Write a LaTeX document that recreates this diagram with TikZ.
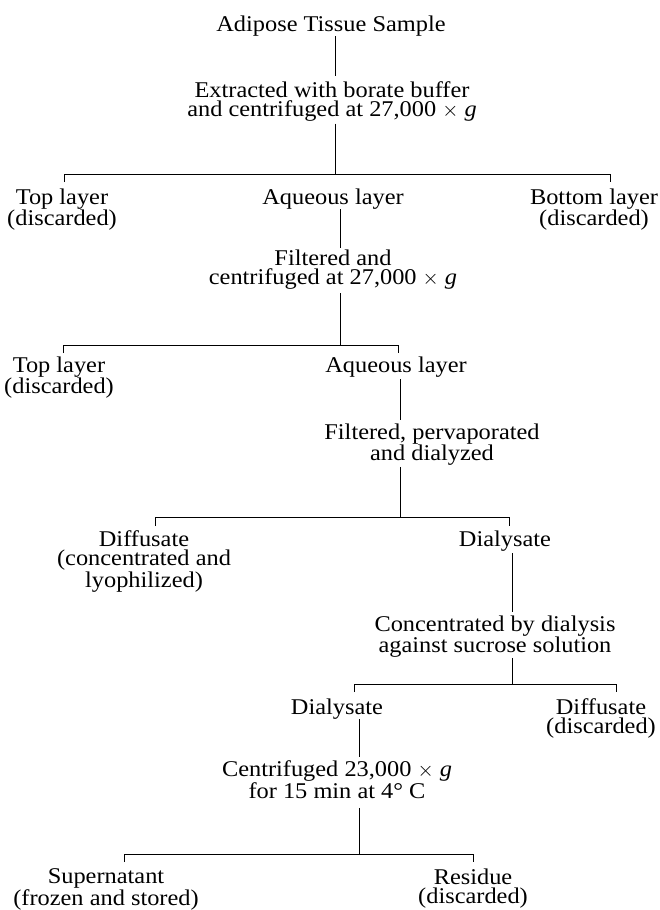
\documentclass[tikz,border=0pt]{standalone}
\usepackage{fontspec}
\setmainfont{Liberation Serif}[FakeStretch=1.083]
\begin{document}
\begin{tikzpicture}[x=1pt,y=-1pt,
  txt/.style={anchor=north,inner sep=0pt,align=center,font=\fontsize{22.5}{19}\selectfont},
  ln/.style={line width=0.8pt}]
\useasboundingbox (0,0) rectangle (659,910);
% text nodes (north = first baseline - 15.4)
\node[txt] (A) at (331,15.6) {Adipose Tissue Sample};
\node[txt] (B) at (332,81.6) {Extracted with borate buffer\\and centrifuged at 27,000 $\times$ \textit{g}};
\node[txt] (TL1) at (62,188.6) {Top layer\\(discarded)};
\node[txt] (AQ1) at (333,188.6) {Aqueous layer};
\node[txt] (BL) at (594,188.6) {Bottom layer\\(discarded)};
\node[txt] (C) at (333,249.6) {Filtered and\\centrifuged at 27,000 $\times$ \textit{g}};
\node[txt] (TL2) at (59,356.6) {Top layer\\(discarded)};
\node[txt] (AQ2) at (396,356.6) {Aqueous layer};
\node[txt] (D) at (432,423.6) {Filtered, pervaporated\\and dialyzed};
\node[txt] (DF) at (144,530.6) {Diffusate\\(concentrated and\\lyophilized)};
\node[txt] (DL) at (505,530.6) {Dialysate};
\node[txt] (E) at (495,615.6) {Concentrated by dialysis\\against sucrose solution};
\node[txt] (DL2) at (337,698.6) {Dialysate};
\node[txt] (DF2) at (601,698.6) {Diffusate\\(discarded)};
\node[txt] (F) at (337,760.6) {Centrifuged 23,000 $\times$ \textit{g}\\for 15 min at 4° C};
\node[txt] (SN) at (106,868.6) {Supernatant\\(frozen and stored)};
\node[txt] (RS) at (473,868.6) {Residue\\(discarded)};
% junctions and bracket ends
\coordinate (j1) at (335,174);  \coordinate (j1l) at (64,182);  \coordinate (j1r) at (610,182);
\coordinate (j2) at (340,345);  \coordinate (j2l) at (63,353);  \coordinate (j2r) at (398,353);
\coordinate (j3) at (400,517);  \coordinate (j3l) at (155,526); \coordinate (j3r) at (509,526);
\coordinate (j4) at (512,684);  \coordinate (j4l) at (354,692); \coordinate (j4r) at (616,692);
\coordinate (j5) at (359,854);  \coordinate (j5l) at (124,862); \coordinate (j5r) at (473,862);
% connectors
\draw[ln,shorten >=6pt] (A.south -| j1) -- (B.north -| j1);
\draw[ln,shorten <=2pt] (B.south -| j1) -- (j1);
\draw[ln] (j1l) -- (j1l |- j1) -- (j1r |- j1) -- (j1r);
\draw[ln,shorten >=2pt] (AQ1.south -| j2) -- (C.north -| j2);
\draw[ln,shorten <=4pt] (C.south -| j2) -- (j2);
\draw[ln] (j2l) -- (j2l |- j2) -- (j2r |- j2) -- (j2r);
\draw[ln,shorten <=2pt,shorten >=4pt] (AQ2.south -| j3) -- (D.north -| j3);
\draw[ln,shorten <=1pt] (D.south -| j3) -- (j3);
\draw[ln] (j3l) -- (j3l |- j3) -- (j3r |- j3) -- (j3r);
\draw[ln,shorten <=2pt,shorten >=4pt] (DL.south -| j4) -- (E.north -| j4);
\draw[ln] (E.south -| j4) -- (j4);
\draw[ln] (j4l) -- (j4l |- j4) -- (j4r |- j4) -- (j4r);
\draw[ln,shorten >=4pt] (DL2.south -| j5) -- (F.north -| j5);
\draw[ln,shorten <=9pt] (F.south -| j5) -- (j5);
\draw[ln] (j5l) -- (j5l |- j5) -- (j5r |- j5) -- (j5r);
\end{tikzpicture}
\end{document}
